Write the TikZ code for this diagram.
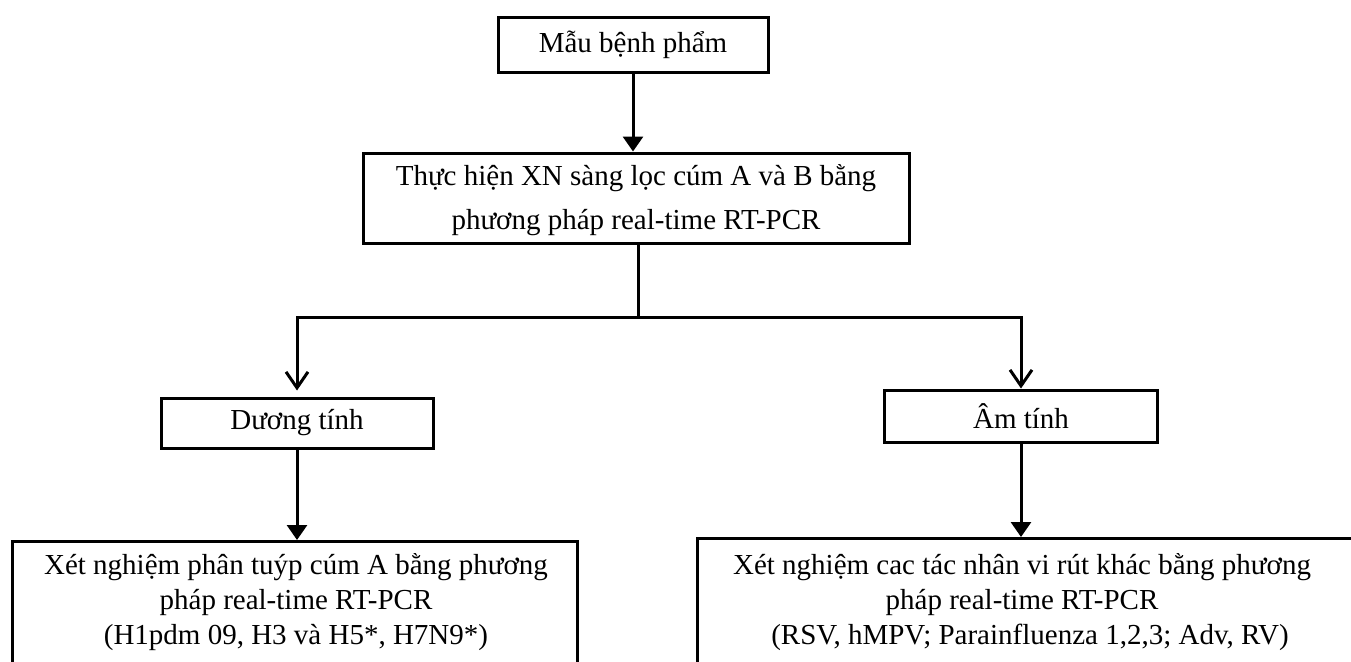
\documentclass[tikz,border=0pt]{standalone}
\usepackage{fontspec}
\setmainfont{Liberation Serif}
\usetikzlibrary{arrows.meta}
\begin{document}
\begin{tikzpicture}[x=1pt,y=-1pt,
  box/.style={draw, line width=3pt, align=center, inner sep=0pt, font=\fontsize{29}{34}\selectfont},
  txt/.style={align=center, inner sep=0pt, font=\fontsize{29}{35}\selectfont},
  conn/.style={line width=3pt},
  tri/.style={conn, -{Triangle[width=20pt,length=15pt]}},
  barb/.style={conn, -{Straight Barb[width=22pt,length=16pt,line width=3pt]}}]
\useasboundingbox (0,0) rectangle (1351,661);
\clip (0,0) rectangle (1351,661);
\node[box, minimum width=270pt, minimum height=54pt] (top) at (633,45) {Mẫu bệnh phẩm};
\node[box, minimum width=546pt, minimum height=90pt, font=\fontsize{29}{44}\selectfont] (mid) at (636,198) {\rule{0pt}{25pt}Thực hiện XN sàng lọc cúm A và B bằng\\phương pháp real-time RT-PCR};
\node[box, minimum width=272pt, minimum height=50pt] (pos) at (297,423) {Dương tính};
\node[box, minimum width=273pt, minimum height=52pt] (neg) at (1021,416) {Âm tính};
\node[box, minimum width=565pt, minimum height=160pt, anchor=north] (bl) at (294.5,540) {};
\node[box, minimum width=680pt, minimum height=160pt, anchor=north] (br) at (1037,537) {};
\node[txt] (bltext) at (296,602) {Xét nghiệm phân tuýp cúm A bằng phương\\pháp real-time RT-PCR\\(H1pdm 09, H3 và H5*, H7N9*)};
\node[txt] (brtext) at (1022,602) {Xét nghiệm cac tác nhân vi rút khác bằng phương\\pháp real-time RT-PCR\\\hspace*{16pt}(RSV, hMPV; Parainfluenza 1,2,3; Adv, RV)};
\coordinate (j) at (638,317);
\draw[tri] (top.south) -- (top.south |- mid.north);
\draw[conn] (mid.south -| j) -- (j);
\draw[barb, shorten >=6pt] (j) -| (pos.north);
\draw[barb] (j) -| (neg.north);
\draw[tri] (pos.south) -- (pos.south |- bl.north);
\draw[tri] (neg.south) -- (neg.south |- br.north);
\end{tikzpicture}
\end{document}
